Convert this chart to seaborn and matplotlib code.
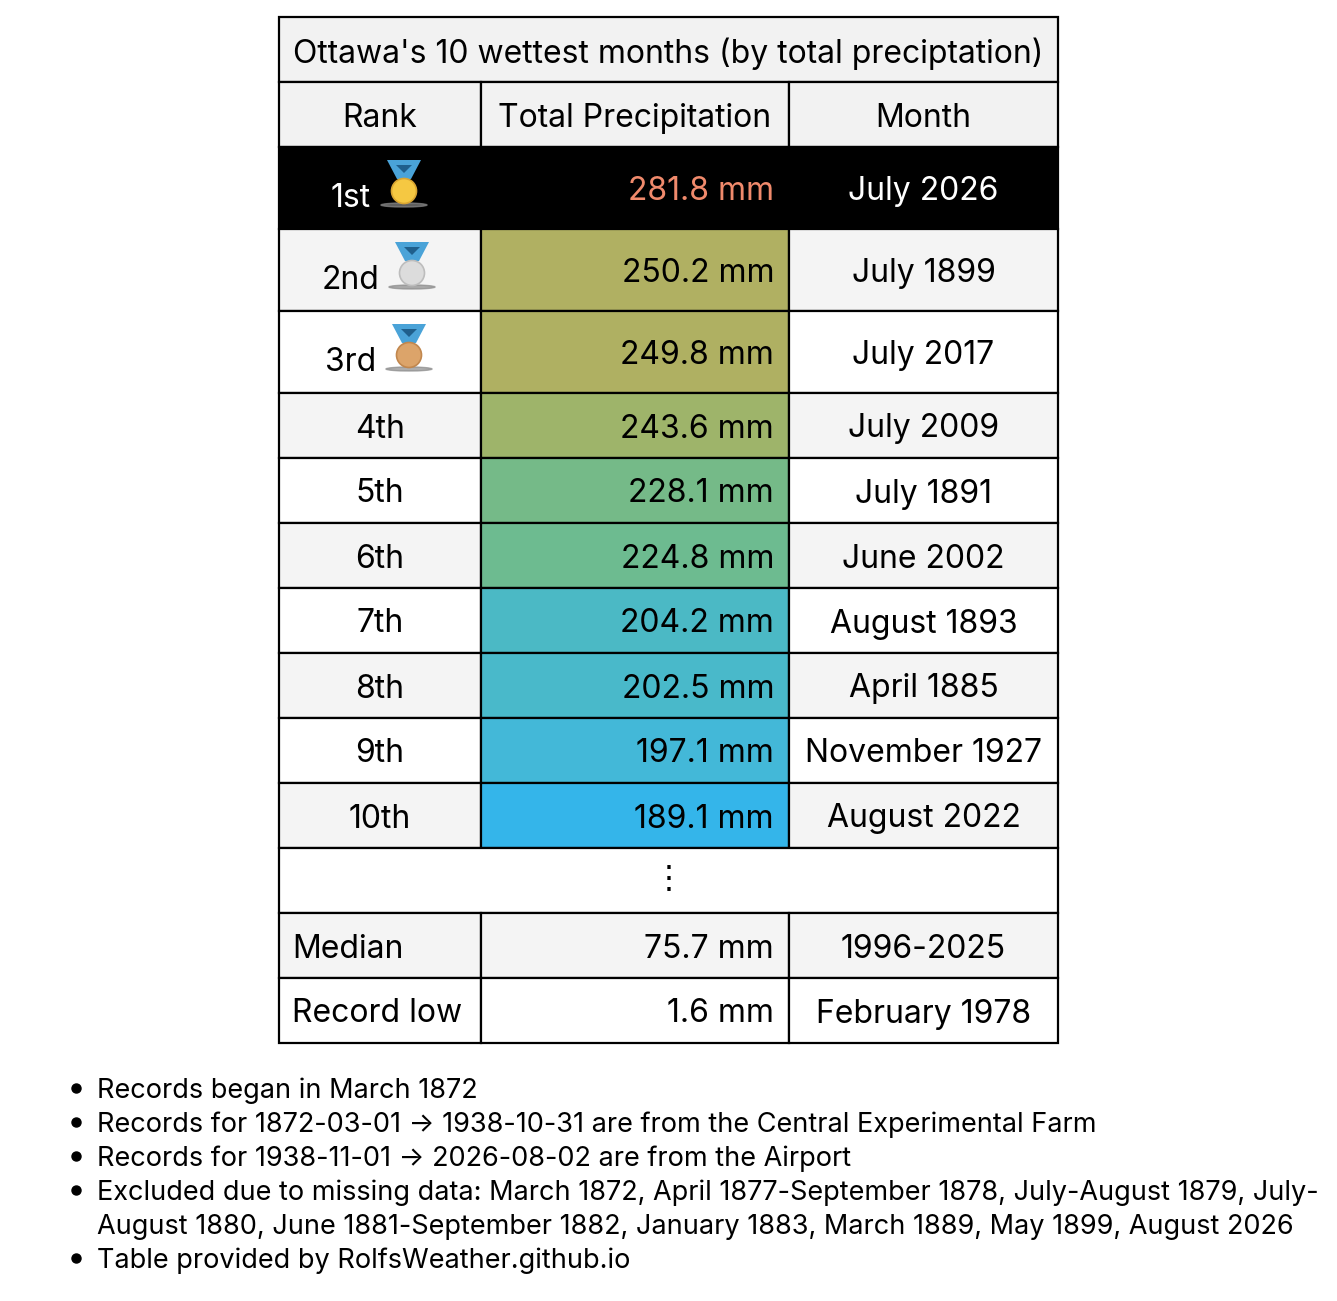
"""
Ottawa's 10 wettest months table, drawn with matplotlib patches + seaborn palette
"""

import matplotlib
matplotlib.use("Agg")
import matplotlib.pyplot as plt
from matplotlib.colors import LinearSegmentedColormap
from matplotlib.patches import Rectangle, Polygon, Circle, Ellipse
import seaborn as sns

sns.set_theme(style="white")
plt.rcParams['font.family'] = ['Inter', 'DejaVu Sans']
plt.rcParams['text.color'] = 'black'

# data
title = "Ottawa's 10 wettest months (by total preciptation)"
headers = ["Rank", "Total Precipitation", "Month"]
ranks = ["1st", "2nd", "3rd", "4th", "5th", "6th", "7th", "8th", "9th", "10th"]
precip_mm = [281.8, 250.2, 249.8, 243.6, 228.1, 224.8, 204.2, 202.5, 197.1, 189.1]
months = ["July 2026", "July 1899", "July 2017", "July 2009", "July 1891",
          "June 2002", "August 1893", "April 1885", "November 1927", "August 2022"]
extra_labels = ["Median", "Record low"]
extra_mm = [75.7, 1.6]
extra_months = ["1996-2025", "February 1978"]
notes = [
    "Records began in March 1872",
    "Records for 1872-03-01 \u2192 1938-10-31 are from the Central Experimental Farm",
    "Records for 1938-11-01 \u2192 2026-08-02 are from the Airport",
    "Excluded due to missing data: March 1872, April 1877-September 1878, July-August 1879, July-\n"
    "August 1880, June 1881-September 1882, January 1883, March 1889, May 1899, August 2026",
    "Table provided by RolfsWeather.github.io",
]

# layout (pixels)
W, H = 1337, 1301
col_x = [279, 481, 789, 1058]
grey = "#f4f4f4"
head_grey = "#f2f2f2"
fs = 23
note_fs = 19.5
lw = 1.6

cmap = LinearSegmentedColormap.from_list("wet", [
    (0.0, "#34b5ea"), (0.13, "#43b8d8"), (0.25, "#4bb9c5"),
    (0.6, "#6fbb8d"), (0.89, "#9db46a"), (1.0, "#b0b062")])
sns.set_palette(sns.color_palette([cmap(v) for v in (0, 0.5, 1)]))
vmin, vmax = 189.1, 250.2

fig = plt.figure(figsize=(W / 100, H / 100), dpi=100)
ax = fig.add_axes([0, 0, 1, 1])
ax.set_xlim(0, W)
ax.set_ylim(H, 0)
ax.axis("off")


def cell(x0, x1, y0, y1, color):
    ax.add_patch(Rectangle((x0, y0), x1 - x0, y1 - y0, facecolor=color,
                           edgecolor="black", linewidth=lw, zorder=1))


def medal(cx, top, face, edge):
    ax.add_patch(Ellipse((cx, top + 45), 46, 4, color="#8a8a8a", alpha=0.7, zorder=2))
    ax.add_patch(Polygon([(cx - 17, top), (cx + 17, top), (cx + 7, top + 19), (cx - 7, top + 19)],
                         closed=True, facecolor="#4aa3d8", edgecolor="none", zorder=3))
    ax.add_patch(Polygon([(cx - 8, top + 5), (cx + 8, top + 5), (cx, top + 13)],
                         closed=True, facecolor="#1f5f8c", edgecolor="none", zorder=4))
    ax.add_patch(Circle((cx, top + 31), 12.5, facecolor=face, edgecolor=edge,
                        linewidth=1.2, zorder=5))


# title + header
cell(col_x[0], col_x[3], 17, 82, head_grey)
ax.text((col_x[0] + col_x[3]) / 2, 50, title, ha="center", va="center_baseline", fontsize=fs, zorder=6)
for j, h in enumerate(headers):
    cell(col_x[j], col_x[j + 1], 82, 147, head_grey)
    ax.text((col_x[j] + col_x[j + 1]) / 2, 115, h, ha="center", va="center_baseline",
            fontsize=fs, zorder=6)

# ranked rows
row_h = [82, 82, 82] + [65] * 7
medal_cx = [404, 412, 409]
medal_cols = [("#f5c842", "#d9a531"), ("#dcdcdc", "#bdbdbd"), ("#dca46a", "#c1874e")]
y = 147
for i in range(len(ranks)):
    y0, y1 = y, y + row_h[i]
    ym = (y0 + y1) / 2
    bg = grey if i % 2 == 1 else "white"
    if i == 0:
        ax.add_patch(Rectangle((col_x[0], y0), col_x[3] - col_x[0], y1 - y0,
                               facecolor="black", edgecolor="black", linewidth=lw, zorder=1))
        txt_col, val_col = "white", "#f08a6c"
    else:
        cell(col_x[0], col_x[1], y0, y1, bg)
        cell(col_x[1], col_x[2], y0, y1, cmap((precip_mm[i] - vmin) / (vmax - vmin)))
        cell(col_x[2], col_x[3], y0, y1, bg)
        txt_col, val_col = "black", "black"
    if i < 3:
        medal(medal_cx[i], y0 + 13, *medal_cols[i])
        ax.text(medal_cx[i] - 33, y0 + 60, ranks[i], ha="right", va="baseline",
                fontsize=fs, color=txt_col, zorder=6)
    else:
        ax.text((col_x[0] + col_x[1]) / 2, ym, ranks[i], ha="center", va="center_baseline",
                fontsize=fs, color=txt_col, zorder=6)
    ax.text(col_x[2] - 15, ym, f"{precip_mm[i]:.1f} mm", ha="right", va="center_baseline",
            fontsize=fs, color=val_col, zorder=6)
    ax.text((col_x[2] + col_x[3]) / 2, ym, months[i], ha="center", va="center_baseline",
            fontsize=fs, color=txt_col, zorder=6)
    y = y1

# ellipsis row
cell(col_x[0], col_x[3], y, y + 65, "white")
ax.text((col_x[0] + col_x[3]) / 2, y + 32, "\u22ee", ha="center", va="center",
        fontsize=fs, zorder=6)
y += 65

# median / record low
for k in range(len(extra_labels)):
    bg = grey if k == 0 else "white"
    ym = y + 32.5
    cell(col_x[0], col_x[1], y, y + 65, bg)
    cell(col_x[1], col_x[2], y, y + 65, bg)
    cell(col_x[2], col_x[3], y, y + 65, bg)
    ax.text(col_x[0] + 13, ym, extra_labels[k], ha="left", va="center_baseline", fontsize=fs, zorder=6)
    ax.text(col_x[2] - 15, ym, f"{extra_mm[k]:.1f} mm", ha="right", va="center_baseline",
            fontsize=fs, zorder=6)
    ax.text((col_x[2] + col_x[3]) / 2, ym, extra_months[k], ha="center", va="center_baseline",
            fontsize=fs, zorder=6)
    y += 65

# footnotes
ny = 1088
for note in notes:
    ax.plot(76, ny, marker="o", markersize=6.5, color="black")
    for line in note.split("\n"):
        ax.text(97, ny, line, ha="left", va="center_baseline", fontsize=note_fs)
        ny += 34

fig.savefig("out.png", dpi=100)
